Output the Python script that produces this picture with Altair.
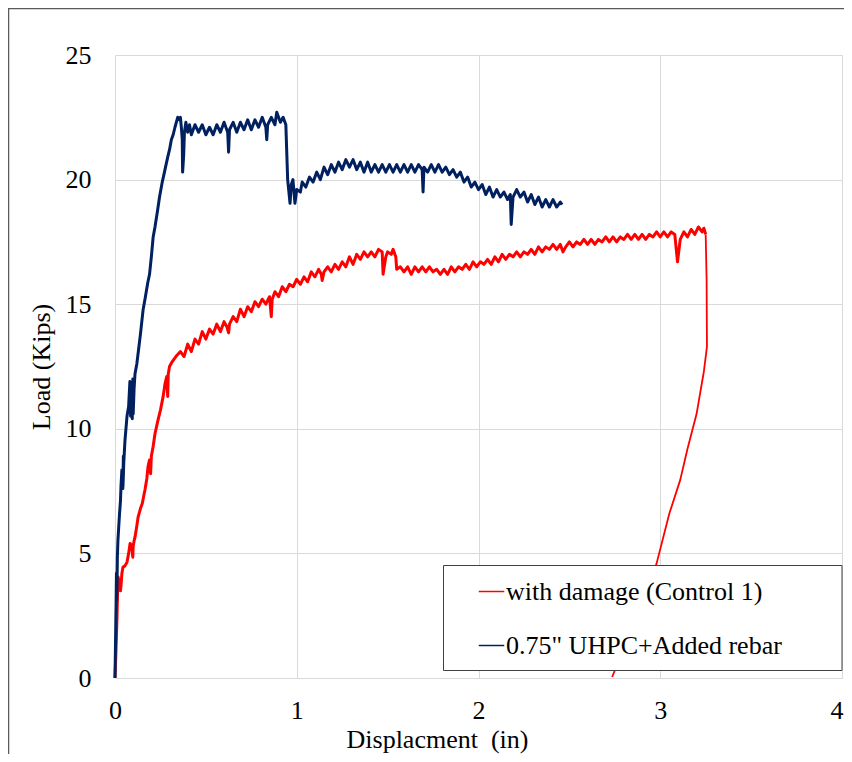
import altair as alt
import pandas as pd

series_names = ["with damage (Control 1)", '0.75" UHPC+Added rebar']
series_colors = ["#FF0000", "#002060"]

x_ticks = [0, 1, 2, 3, 4]
y_ticks = [0, 5, 10, 15, 20, 25]

# with damage (Control 1): loading branch
red_x = [0.000, 0.004, 0.008, 0.011, 0.014, 0.017, 0.024, 0.030, 0.033, 0.038, 0.044, 0.055, 0.066, 0.075,
         0.083, 0.092, 0.098, 0.100, 0.105, 0.110, 0.120, 0.127, 0.140, 0.150, 0.158, 0.165, 0.175, 0.182,
         0.190, 0.196, 0.200, 0.210, 0.220, 0.235, 0.250, 0.265, 0.275, 0.285, 0.290, 0.293, 0.300, 0.315,
         0.335,
         0.36, 0.38, 0.40, 0.42, 0.44, 0.46, 0.48, 0.50, 0.52, 0.54, 0.56, 0.58, 0.60, 0.615, 0.625, 0.63,
         0.65, 0.67, 0.69, 0.71, 0.73, 0.75, 0.77, 0.79, 0.81, 0.83, 0.85, 0.86, 0.865, 0.88, 0.90, 0.92,
         0.94, 0.96, 0.98, 1.00, 1.02, 1.04, 1.06, 1.08, 1.10, 1.12, 1.135, 1.14, 1.15, 1.17, 1.19, 1.21,
         1.23, 1.25, 1.27, 1.29, 1.31, 1.33, 1.35, 1.37, 1.39, 1.41, 1.43, 1.45, 1.47, 1.475, 1.49, 1.50,
         1.52, 1.53, 1.545, 1.55, 1.57, 1.59, 1.61, 1.63, 1.65, 1.67, 1.69, 1.71, 1.73, 1.75, 1.77, 1.79,
         1.81, 1.83, 1.85, 1.87, 1.89, 1.91, 1.93, 1.95, 1.97, 1.99, 2.01, 2.03, 2.05, 2.07, 2.09, 2.11,
         2.13, 2.15, 2.17, 2.19, 2.21, 2.23, 2.25, 2.27, 2.29, 2.31, 2.33, 2.35, 2.37, 2.39, 2.41, 2.43,
         2.45, 2.465, 2.48, 2.50, 2.52, 2.54, 2.56, 2.58, 2.60, 2.62, 2.64, 2.66, 2.68, 2.70, 2.72, 2.74,
         2.76, 2.78, 2.80, 2.82, 2.84, 2.86, 2.88, 2.90, 2.92, 2.94, 2.96, 2.98, 3.00, 3.02, 3.04, 3.06,
         3.08, 3.095, 3.11, 3.13, 3.15, 3.17, 3.19, 3.21, 3.23, 3.24, 3.25]
red_y = [0.0, 0.8, 1.7, 2.45, 3.4, 4.05, 3.8, 3.5, 3.7, 4.2, 4.45, 4.5, 4.65, 5.0,
         5.4, 5.3, 4.85, 5.3, 5.5, 5.65, 6.1, 6.45, 6.8, 7.0, 7.3, 7.55, 8.0, 8.5,
         8.75, 8.2, 8.9, 9.3, 9.8, 10.3, 10.75, 11.3, 11.8, 12.1, 11.3, 12.2, 12.5, 12.7,
         12.9,
         13.1, 12.9, 13.4, 13.1, 13.6, 13.4, 13.9, 13.6, 14.0, 13.8, 14.2, 13.9, 14.3, 14.1, 13.85, 14.2,
         14.5, 14.3, 14.8, 14.5, 14.9, 14.7, 15.1, 14.9, 15.2, 15.0, 15.3, 14.5, 15.2, 15.5, 15.3, 15.7,
         15.5, 15.8, 15.7, 16.0, 15.8, 16.1, 15.9, 16.3, 16.1, 16.4, 16.2, 15.95, 16.3, 16.5, 16.3, 16.6,
         16.4, 16.7, 16.5, 16.9, 16.6, 17.0, 16.8, 17.1, 16.9, 17.1, 16.9, 17.2, 17.1, 16.2, 16.9, 17.1,
         17.0, 17.2, 16.9, 16.4, 16.5, 16.3, 16.5, 16.2, 16.5, 16.3, 16.5, 16.3, 16.5, 16.3, 16.4, 16.2,
         16.4, 16.2, 16.5, 16.3, 16.5, 16.4, 16.6, 16.4, 16.7, 16.5, 16.7, 16.6, 16.8, 16.6, 16.9, 16.7,
         17.0, 16.8, 17.0, 16.9, 17.1, 16.9, 17.1, 17.0, 17.2, 17.0, 17.3, 17.1, 17.3, 17.2, 17.4, 17.2,
         17.4, 17.1, 17.3, 17.5, 17.3, 17.5, 17.4, 17.6, 17.4, 17.6, 17.4, 17.6, 17.5, 17.7, 17.5, 17.7,
         17.5, 17.7, 17.6, 17.8, 17.6, 17.8, 17.6, 17.8, 17.6, 17.8, 17.7, 17.9, 17.7, 17.9, 17.7, 17.9,
         17.8, 16.7, 17.6, 17.9, 17.7, 18.0, 17.8, 18.1, 17.9, 18.05, 17.8]

# with damage (Control 1): unloading branch (continues from the last loading point)
red_unload_x = [3.255, 3.257, 3.24, 3.20, 3.15, 3.11, 3.05, 2.98, 2.86, 2.735]
red_unload_y = [16.0, 13.3, 12.3, 10.6, 9.2, 7.95, 6.6, 4.6, 2.2, 0.04]

# 0.75" UHPC + Added rebar
blue_x = [0.000, 0.002, 0.004, 0.006, 0.008, 0.009, 0.011, 0.010, 0.012, 0.011, 0.013, 0.016, 0.020, 0.025,
          0.030, 0.033, 0.038, 0.043, 0.046, 0.044, 0.048, 0.055, 0.066, 0.075, 0.082, 0.086, 0.090, 0.095,
          0.098, 0.100, 0.105, 0.110, 0.120, 0.140, 0.155, 0.165, 0.180, 0.190, 0.200, 0.210, 0.220, 0.235,
          0.245, 0.260, 0.275, 0.290, 0.300, 0.310, 0.320, 0.330, 0.345, 0.355, 0.360, 0.365, 0.370, 0.372,
          0.378, 0.382, 0.39,
          0.40, 0.41, 0.42, 0.44, 0.46, 0.48, 0.50, 0.52, 0.54, 0.56, 0.58, 0.60, 0.62, 0.625, 0.63, 0.65,
          0.67, 0.69, 0.71, 0.73, 0.75, 0.77, 0.79, 0.81, 0.83, 0.835, 0.84, 0.86, 0.88, 0.89, 0.91, 0.925,
          0.94, 0.95, 0.963, 0.97, 0.979, 0.99, 1.00, 1.02, 1.03, 1.05, 1.07, 1.09, 1.11, 1.13, 1.15, 1.17,
          1.19, 1.21, 1.23, 1.25, 1.27, 1.29, 1.31, 1.33, 1.35, 1.37, 1.39, 1.41, 1.43, 1.45, 1.47, 1.49,
          1.51, 1.53, 1.55, 1.57, 1.59, 1.61, 1.63, 1.65, 1.67, 1.69, 1.695, 1.70, 1.72, 1.74, 1.76, 1.78,
          1.80, 1.82, 1.84, 1.86, 1.88, 1.90, 1.92, 1.94, 1.96, 1.98, 2.00, 2.02, 2.04, 2.06, 2.08, 2.10,
          2.12, 2.14, 2.16, 2.175, 2.18, 2.19, 2.21, 2.23, 2.25, 2.27, 2.29, 2.31, 2.33, 2.35, 2.37, 2.39,
          2.41, 2.43, 2.45, 2.46]
blue_y = [0.0, 1.0, 2.0, 3.0, 4.2, 3.1, 4.1, 3.3, 4.3, 3.6, 4.85, 5.5, 6.0, 6.6,
          7.1, 7.7, 8.35, 7.6, 8.9, 7.7, 8.6, 9.55, 10.5, 10.9, 11.9, 10.5, 11.8, 10.4,
          12.0, 10.6, 11.6, 12.2, 12.6, 13.8, 14.8, 15.2, 15.85, 16.2, 16.9, 17.7, 18.1, 18.8,
          19.3, 19.9, 20.4, 20.9, 21.2, 21.6, 21.8, 22.1, 22.5, 22.4, 22.5, 22.1, 21.6, 20.3,
          21.0, 21.9, 22.3,
          21.9, 22.2, 21.8, 22.2, 21.9, 22.2, 21.8, 22.1, 21.8, 22.2, 21.9, 22.3, 21.9, 21.1, 22.0, 22.3,
          21.9, 22.3, 22.0, 22.4, 22.0, 22.4, 22.1, 22.5, 22.1, 21.6, 22.2, 22.5, 22.2, 22.7, 22.3, 22.5,
          22.2, 20.0, 19.05, 19.8, 20.0, 19.05, 19.6, 19.5, 19.9, 19.7, 20.1, 19.9, 20.3, 20.0, 20.5, 20.2,
          20.6, 20.3, 20.7, 20.4, 20.8, 20.5, 20.8, 20.4, 20.7, 20.3, 20.7, 20.3, 20.6, 20.3, 20.6, 20.3,
          20.6, 20.3, 20.6, 20.3, 20.6, 20.3, 20.6, 20.3, 20.6, 20.4, 19.5, 20.5, 20.3, 20.6, 20.3, 20.6,
          20.3, 20.5, 20.2, 20.4, 20.1, 20.3, 19.9, 20.1, 19.7, 19.9, 19.6, 19.8, 19.4, 19.7, 19.3, 19.6,
          19.3, 19.5, 19.2, 19.4, 18.2, 19.3, 19.6, 19.3, 19.5, 19.1, 19.4, 19.0, 19.3, 18.9, 19.2, 18.9,
          19.2, 18.9, 19.1, 19.0]

rows = []
def add(name, seg, xs, ys):
    for i, (xv, yv) in enumerate(zip(xs, ys)):
        rows.append({"series": name, "seg": seg, "x": xv, "y": yv, "i": i})

add(series_names[0], "loading", red_x, red_y)
add(series_names[0], "unloading", [red_x[-1]] + red_unload_x, [red_y[-1]] + red_unload_y)
add(series_names[1], "loading", blue_x, blue_y)
df = pd.DataFrame(rows)

FONT = "Liberation Serif"
PLOT_W, PLOT_H = 727, 623

lines = alt.Chart(df).mark_line(strokeJoin="round").encode(
    x=alt.X("x:Q", scale=alt.Scale(domain=[0, 4], nice=False, zero=False),
            axis=alt.Axis(values=x_ticks, title="Displacment\u00a0 (in)", format="d",
                          titleX=322, titleAlign="center",
                          labelAlign=alt.ExprRef("datum.value == 4 ? 'right' : 'center'"),
                          labelOffset=alt.ExprRef("datum.value == 4 ? 1 : 0"))),
    y=alt.Y("y:Q", scale=alt.Scale(domain=[0, 25], nice=False),
            axis=alt.Axis(values=y_ticks, title="Load (Kips)", format="d")),
    color=alt.Color("series:N", sort=series_names,
                    scale=alt.Scale(domain=series_names, range=series_colors),
                    legend=alt.Legend(orient="none", legendX=363, legendY=523, title=None,
                                      symbolType="stroke", symbolSize=650, symbolStrokeWidth=1.5,
                                      labelFont=FONT, labelFontSize=26, labelColor="black",
                                      labelOffset=1, rowPadding=27, padding=0, labelLimit=500)),
    strokeWidth=alt.StrokeWidth("seg:N", scale=alt.Scale(domain=["loading", "unloading"], range=[3.0, 1.8]),
                                legend=None),
    detail="seg:N",
    order="i:Q",
)

one = pd.DataFrame({"a": [0]})
legend_box = alt.Chart(one).mark_rect(fill="white", stroke="#404040", strokeWidth=1).encode(
    x=alt.value(328.5), x2=alt.value(727), y=alt.value(510.5), y2=alt.value(615.5)
)
frame_top = alt.Chart(one).mark_rule(color="#5a5a5a", strokeWidth=1.5).encode(
    x=alt.value(-107), x2=alt.value(760), y=alt.value(-46.5), y2=alt.value(-46.5)
)
frame_left = alt.Chart(one).mark_rule(color="#5a5a5a", strokeWidth=1.5).encode(
    x=alt.value(-106.5), x2=alt.value(-106.5), y=alt.value(-47), y2=alt.value(720)
)

chart = alt.layer(lines, legend_box, frame_top, frame_left).properties(
    width=PLOT_W, height=PLOT_H,
    autosize=alt.AutoSizeParams(type="none"),
    padding={"left": 107, "top": 47, "right": 2, "bottom": 76},
    background="white",
).configure_view(stroke=None).configure_axis(
    labelFont=FONT, labelFontSize=26, labelColor="black",
    titleFont=FONT, titleFontSize=26, titleFontWeight="normal", titleColor="black",
    grid=True, gridColor="#d9d9d9", gridWidth=1, domain=False, ticks=False,
).configure_axisX(labelPadding=19, titlePadding=3).configure_axisY(labelPadding=24, titlePadding=11)

chart.save("out.html", embed_options={"renderer": "svg", "actions": False})
